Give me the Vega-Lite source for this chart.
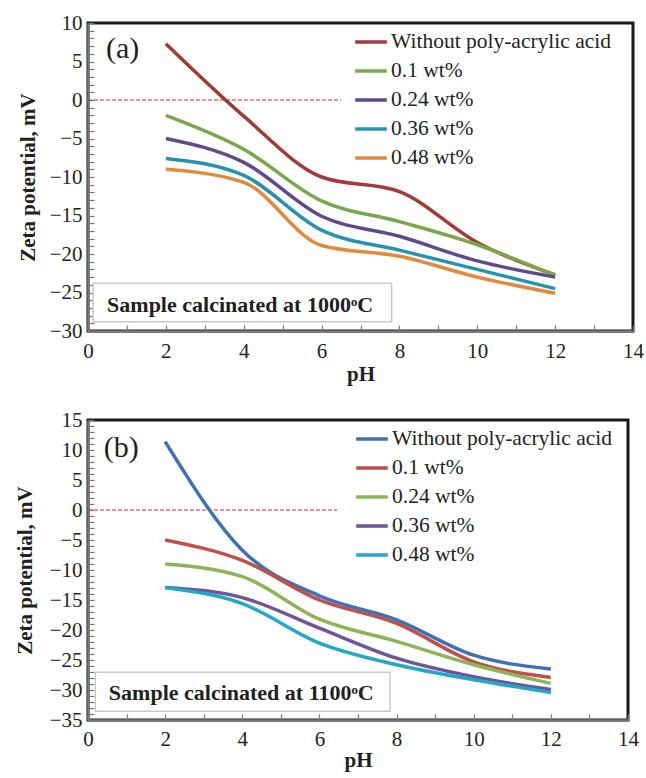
{
  "$schema": "https://vega.github.io/schema/vega-lite/v6.json",
  "background": "white",
  "padding": {"left": 12, "top": 10, "right": 0, "bottom": 0},
  "spacing": 21,
  "config": {
    "view": {"stroke": "#1a1a1a", "strokeWidth": 3},
    "axis": {
      "labelFont": "Liberation Serif", "labelFontSize": 21, "labelColor": "#231f20",
      "titleFont": "Liberation Serif", "titleFontSize": 21, "titleFontWeight": "bold", "titleColor": "#231f20",
      "domainColor": "#777", "domainWidth": 2.5, "tickColor": "#777", "tickWidth": 1.2, "grid": false,
      "labelFlush": false, "labelBound": false, "labelOverlap": false, "tickSize": -6, "ticks": true
    },
    "legend": {"labelFont": "Liberation Serif", "labelFontSize": 21.5, "labelColor": "#231f20", "labelLimit": 400}
  },
  "resolve": {"scale": {"color": "independent", "x": "independent", "y": "independent"}, "legend": {"color": "independent"}},
  "vconcat": [
    {
      "width": 545, "height": 308,
      "encoding": {
        "x": {"field": "pH", "type": "quantitative", "title": "pH",
              "scale": {"domain": [0, 14], "nice": false},
              "axis": {"values": [0,0.5,1,1.5,2,2.5,3,3.5,4,4.5,5,5.5,6,6.5,7,7.5,8,8.5,9,9.5,10,10.5,11,11.5,12,12.5,13,13.5,14],
                       "format": "d", "labelExpr": "datum.value % 2 == 0 ? datum.label : ''",
                       "labelFont": "Liberation Serif", "labelFontSize": 21,
                       "labelPadding": 15, "titlePadding": 2}},
        "y": {"field": "zeta", "type": "quantitative", "title": "Zeta potential, mV",
              "scale": {"domain": [-30, 10], "nice": false},
              "axis": {"values": [-30,-29,-28,-27,-26,-25,-24,-23,-22,-21,-20,-19,-18,-17,-16,-15,-14,-13,-12,-11,-10,-9,-8,-7,-6,-5,-4,-3,-2,-1,0,1,2,3,4,5,6,7,8,9,10],
                       "format": "d", "labelExpr": "datum.value % 5 == 0 ? datum.label : ''",
                       "labelFont": "Liberation Serif", "labelFontSize": 21,
                       "labelPadding": 12, "titlePadding": 11}}
      },
      "layer": [
        {
          "data": {"values": [{"pH": 0.13, "pH2": 7.8, "zeta": -23.8, "zeta2": -28.8}]},
          "mark": {"type": "rect", "fill": "white", "stroke": "#c8c8c8", "strokeWidth": 1.5},
          "encoding": {"x2": {"field": "pH2"}, "y2": {"field": "zeta2"}}
        },
        {
          "data": {"values": [{"pH": 0, "pH2": 6.5, "zeta": 0}]},
          "mark": {"type": "rule", "color": "#e8262a", "strokeDash": [4, 2], "strokeWidth": 1},
          "encoding": {"x2": {"field": "pH2"}}
        },
        {
          "data": {"values": [
            {"pH": 2, "zeta": 7.3, "series": "Without poly-acrylic acid"},
            {"pH": 4, "zeta": -2.1, "series": "Without poly-acrylic acid"},
            {"pH": 6, "zeta": -10.0, "series": "Without poly-acrylic acid"},
            {"pH": 8, "zeta": -11.9, "series": "Without poly-acrylic acid"},
            {"pH": 10, "zeta": -18.5, "series": "Without poly-acrylic acid"},
            {"pH": 12, "zeta": -22.7, "series": "Without poly-acrylic acid"},
            {"pH": 2, "zeta": -2.0, "series": "0.1 wt%"},
            {"pH": 4, "zeta": -6.4, "series": "0.1 wt%"},
            {"pH": 6, "zeta": -13.1, "series": "0.1 wt%"},
            {"pH": 8, "zeta": -15.8, "series": "0.1 wt%"},
            {"pH": 10, "zeta": -18.8, "series": "0.1 wt%"},
            {"pH": 12, "zeta": -22.8, "series": "0.1 wt%"},
            {"pH": 2, "zeta": -5.0, "series": "0.24 wt%"},
            {"pH": 4, "zeta": -8.1, "series": "0.24 wt%"},
            {"pH": 6, "zeta": -15.1, "series": "0.24 wt%"},
            {"pH": 8, "zeta": -17.7, "series": "0.24 wt%"},
            {"pH": 10, "zeta": -20.9, "series": "0.24 wt%"},
            {"pH": 12, "zeta": -23.0, "series": "0.24 wt%"},
            {"pH": 2, "zeta": -7.6, "series": "0.36 wt%"},
            {"pH": 4, "zeta": -9.8, "series": "0.36 wt%"},
            {"pH": 6, "zeta": -16.9, "series": "0.36 wt%"},
            {"pH": 8, "zeta": -19.5, "series": "0.36 wt%"},
            {"pH": 10, "zeta": -22.0, "series": "0.36 wt%"},
            {"pH": 12, "zeta": -24.5, "series": "0.36 wt%"},
            {"pH": 2, "zeta": -9.0, "series": "0.48 wt%"},
            {"pH": 4, "zeta": -10.7, "series": "0.48 wt%"},
            {"pH": 6, "zeta": -18.9, "series": "0.48 wt%"},
            {"pH": 8, "zeta": -20.3, "series": "0.48 wt%"},
            {"pH": 10, "zeta": -23.0, "series": "0.48 wt%"},
            {"pH": 12, "zeta": -25.1, "series": "0.48 wt%"}
          ]},
          "mark": {"type": "line", "interpolate": "monotone", "strokeWidth": 3.5},
          "encoding": {
            "color": {"field": "series", "type": "nominal",
                      "scale": {"domain": ["Without poly-acrylic acid", "0.1 wt%", "0.24 wt%", "0.36 wt%", "0.48 wt%"],
                                "range": ["#a33a3a", "#79a84a", "#604a8c", "#2494ae", "#e3893e"]},
                      "legend": {"orient": "none", "legendX": 265, "legendY": 1, "title": null,
                                 "labelFont": "Liberation Serif", "labelFontSize": 21.5,
                                 "symbolType": "stroke", "symbolSize": 1000, "symbolStrokeWidth": 3.5,
                                 "labelOffset": 2, "rowPadding": 0}}
          }
        },
        {
          "data": {"values": [{"pH": 0.49, "zeta": -26.6, "label": "Sample calcinated at 1000ᵒC"}]},
          "mark": {"type": "text", "align": "left", "baseline": "middle", "font": "Liberation Serif", "fontSize": 22, "fontWeight": "bold", "color": "#231f20"},
          "encoding": {"text": {"field": "label"}}
        },
        {
          "data": {"values": [{"pH": 0.46, "zeta": 6.6, "label": "(a)"}]},
          "mark": {"type": "text", "align": "left", "baseline": "middle", "font": "Liberation Serif", "fontSize": 30, "color": "#231f20"},
          "encoding": {"text": {"field": "label"}}
        }
      ]
    },
    {
      "width": 540, "height": 300,
      "encoding": {
        "x": {"field": "pH", "type": "quantitative", "title": "pH",
              "scale": {"domain": [0, 14], "nice": false},
              "axis": {"values": [0,0.5,1,1.5,2,2.5,3,3.5,4,4.5,5,5.5,6,6.5,7,7.5,8,8.5,9,9.5,10,10.5,11,11.5,12,12.5,13,13.5,14],
                       "format": "d", "labelExpr": "datum.value % 2 == 0 ? datum.label : ''",
                       "labelFont": "Liberation Serif", "labelFontSize": 21,
                       "labelPadding": 14, "titlePadding": 0}},
        "y": {"field": "zeta", "type": "quantitative", "title": "Zeta potential, mV",
              "scale": {"domain": [-35, 15], "nice": false},
              "axis": {"values": [-35,-34,-33,-32,-31,-30,-29,-28,-27,-26,-25,-24,-23,-22,-21,-20,-19,-18,-17,-16,-15,-14,-13,-12,-11,-10,-9,-8,-7,-6,-5,-4,-3,-2,-1,0,1,2,3,4,5,6,7,8,9,10,11,12,13,14,15],
                       "format": "d", "labelExpr": "datum.value % 5 == 0 ? datum.label : ''",
                       "labelFont": "Liberation Serif", "labelFontSize": 21,
                       "labelPadding": 12, "titlePadding": 14}}
      },
      "layer": [
        {
          "data": {"values": [{"pH": 0.19, "pH2": 7.83, "zeta": -27.05, "zeta2": -33.55}]},
          "mark": {"type": "rect", "fill": "white", "stroke": "#c8c8c8", "strokeWidth": 1.5},
          "encoding": {"x2": {"field": "pH2"}, "y2": {"field": "zeta2"}}
        },
        {
          "data": {"values": [{"pH": 0, "pH2": 6.46, "zeta": 0}]},
          "mark": {"type": "rule", "color": "#e8262a", "strokeDash": [4, 2], "strokeWidth": 1},
          "encoding": {"x2": {"field": "pH2"}}
        },
        {
          "data": {"values": [
            {"pH": 2, "zeta": 11.4, "series": "Without poly-acrylic acid"},
            {"pH": 4, "zeta": -6.7, "series": "Without poly-acrylic acid"},
            {"pH": 6, "zeta": -14.3, "series": "Without poly-acrylic acid"},
            {"pH": 8, "zeta": -18.3, "series": "Without poly-acrylic acid"},
            {"pH": 10, "zeta": -24.2, "series": "Without poly-acrylic acid"},
            {"pH": 12, "zeta": -26.5, "series": "Without poly-acrylic acid"},
            {"pH": 2, "zeta": -5.0, "series": "0.1 wt%"},
            {"pH": 4, "zeta": -8.4, "series": "0.1 wt%"},
            {"pH": 6, "zeta": -15.0, "series": "0.1 wt%"},
            {"pH": 8, "zeta": -18.9, "series": "0.1 wt%"},
            {"pH": 10, "zeta": -25.3, "series": "0.1 wt%"},
            {"pH": 12, "zeta": -27.9, "series": "0.1 wt%"},
            {"pH": 2, "zeta": -9.0, "series": "0.24 wt%"},
            {"pH": 4, "zeta": -11.1, "series": "0.24 wt%"},
            {"pH": 6, "zeta": -18.2, "series": "0.24 wt%"},
            {"pH": 8, "zeta": -21.9, "series": "0.24 wt%"},
            {"pH": 10, "zeta": -25.8, "series": "0.24 wt%"},
            {"pH": 12, "zeta": -28.9, "series": "0.24 wt%"},
            {"pH": 2, "zeta": -12.9, "series": "0.36 wt%"},
            {"pH": 4, "zeta": -14.6, "series": "0.36 wt%"},
            {"pH": 6, "zeta": -19.7, "series": "0.36 wt%"},
            {"pH": 8, "zeta": -24.7, "series": "0.36 wt%"},
            {"pH": 10, "zeta": -27.8, "series": "0.36 wt%"},
            {"pH": 12, "zeta": -29.9, "series": "0.36 wt%"},
            {"pH": 2, "zeta": -12.9, "series": "0.48 wt%"},
            {"pH": 4, "zeta": -15.6, "series": "0.48 wt%"},
            {"pH": 6, "zeta": -22.2, "series": "0.48 wt%"},
            {"pH": 8, "zeta": -25.8, "series": "0.48 wt%"},
            {"pH": 10, "zeta": -28.3, "series": "0.48 wt%"},
            {"pH": 12, "zeta": -30.4, "series": "0.48 wt%"}
          ]},
          "mark": {"type": "line", "interpolate": "monotone", "strokeWidth": 3.5},
          "encoding": {
            "color": {"field": "series", "type": "nominal",
                      "scale": {"domain": ["Without poly-acrylic acid", "0.1 wt%", "0.24 wt%", "0.36 wt%", "0.48 wt%"],
                                "range": ["#3b72b6", "#c04f4c", "#8db556", "#6e5597", "#21a8c8"]},
                      "legend": {"orient": "none", "legendX": 266, "legendY": 1, "title": null,
                                 "labelFont": "Liberation Serif", "labelFontSize": 21.5,
                                 "symbolType": "stroke", "symbolSize": 1000, "symbolStrokeWidth": 3.5,
                                 "labelOffset": 2, "rowPadding": 0}}
          }
        },
        {
          "data": {"values": [{"pH": 0.54, "zeta": -30.55, "label": "Sample calcinated at 1100ᵒC"}]},
          "mark": {"type": "text", "align": "left", "baseline": "middle", "font": "Liberation Serif", "fontSize": 22, "fontWeight": "bold", "color": "#231f20"},
          "encoding": {"text": {"field": "label"}}
        },
        {
          "data": {"values": [{"pH": 0.41, "zeta": 10.3, "label": "(b)"}]},
          "mark": {"type": "text", "align": "left", "baseline": "middle", "font": "Liberation Serif", "fontSize": 30, "color": "#231f20"},
          "encoding": {"text": {"field": "label"}}
        }
      ]
    }
  ]
}
